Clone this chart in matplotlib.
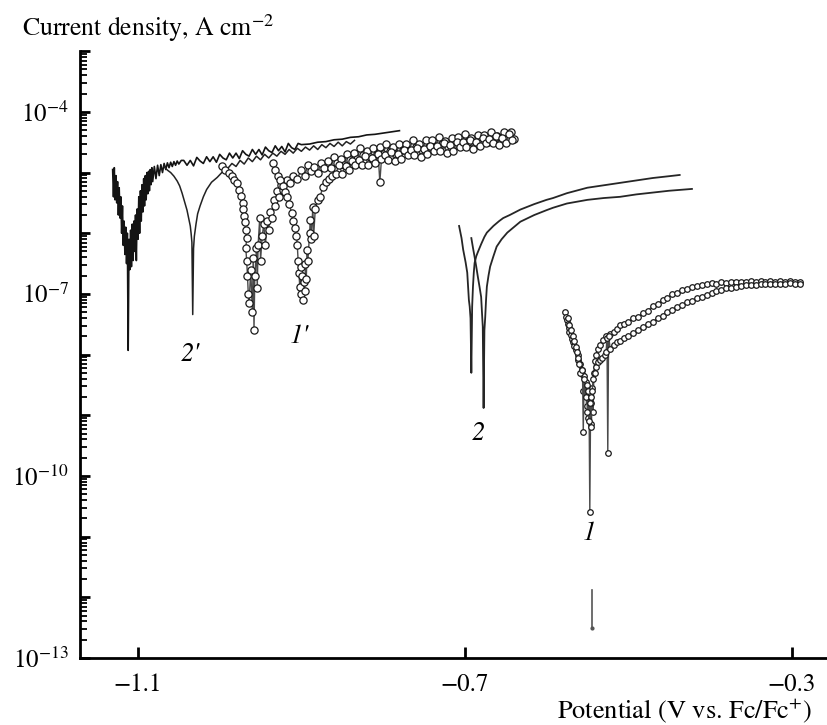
import numpy as np
import matplotlib.pyplot as plt
from matplotlib.ticker import FixedLocator, LogLocator, NullFormatter

# potentials in V vs Fc/Fc+, currents as log10(A cm^-2)

# curve 2' (lines), first branch
e_2p_a = [-1.131, -1.130, -1.129, -1.128, -1.127, -1.126, -1.125, -1.124, -1.123, -1.122,
          -1.121, -1.120, -1.119, -1.118, -1.117, -1.116, -1.115, -1.114, -1.113, -1.112,
          -1.111, -1.110, -1.109, -1.108, -1.107, -1.106, -1.105, -1.104, -1.103, -1.102,
          -1.101, -1.100, -1.099, -1.098, -1.097, -1.096, -1.095, -1.094, -1.093, -1.092,
          -1.091, -1.090, -1.089, -1.088, -1.087, -1.086, -1.085, -1.084, -1.083, -1.082,
          -1.080, -1.078, -1.076, -1.074, -1.072, -1.070, -1.068, -1.066, -1.064, -1.062,
          -1.060, -1.058, -1.056, -1.054, -1.052, -1.050, -1.047,
          -1.044, -1.040, -1.036, -1.032, -1.028, -1.024, -1.020, -1.016, -1.012, -1.008,
          -1.004, -1.000, -0.996, -0.992, -0.988, -0.984, -0.980, -0.976, -0.972, -0.968,
          -0.964, -0.960, -0.956, -0.952, -0.948, -0.944, -0.940, -0.936, -0.932, -0.928,
          -0.924, -0.920, -0.916, -0.912, -0.908, -0.904,
          -0.900, -0.890, -0.880, -0.870, -0.860, -0.850, -0.840, -0.830, -0.820, -0.810,
          -0.800, -0.790, -0.780]
j_2p_a = [-4.95, -5.40, -4.92, -5.45, -5.05, -5.50, -5.15, -5.70, -5.25, -5.75,
          -5.40, -6.00, -5.55, -6.20, -5.80, -6.35, -5.90, -6.50, -6.00, -7.93,
          -6.10, -6.60, -5.95, -6.55, -5.85, -6.45, -5.80, -6.30, -5.70, -6.45,
          -5.60, -6.10, -5.40, -6.00, -5.30, -5.80, -5.20, -5.65, -5.10, -5.55,
          -5.05, -5.45, -5.00, -5.35, -4.98, -5.30, -4.95, -5.20, -4.92, -5.15,
          -4.90, -5.10, -4.88, -5.05, -4.87, -5.00, -4.85, -4.95, -4.84, -4.92,
          -4.83, -4.90, -4.82, -4.88, -4.81, -4.86, -4.80,
          -4.80, -4.88, -4.80, -4.89, -4.75, -4.81, -4.85, -4.74, -4.82, -4.74,
          -4.83, -4.70, -4.76, -4.79, -4.68, -4.76, -4.68, -4.77, -4.64, -4.70,
          -4.73, -4.62, -4.70, -4.62, -4.71, -4.58, -4.64, -4.67, -4.56, -4.64,
          -4.57, -4.66, -4.52, -4.59, -4.62, -4.52,
          -4.54, -4.53, -4.50, -4.49, -4.46, -4.45, -4.42, -4.41, -4.38, -4.37,
          -4.35, -4.33, -4.31]

# curve 2' (lines), second branch
e_2p_b = [-1.068, -1.064, -1.060, -1.056, -1.052, -1.049, -1.046, -1.043, -1.040, -1.038,
          -1.036, -1.035, -1.034, -1.033, -1.032, -1.031, -1.029, -1.027, -1.024, -1.020,
          -1.016, -1.010, -1.003, -0.996, -0.990, -0.985, -0.980, -0.975, -0.970, -0.965,
          -0.960, -0.955, -0.950, -0.945, -0.940, -0.935, -0.930, -0.925, -0.920, -0.915,
          -0.910, -0.905, -0.900, -0.895, -0.890, -0.885, -0.880, -0.875, -0.870, -0.865,
          -0.860, -0.855, -0.850, -0.845, -0.840, -0.835]
j_2p_b = [-4.90, -4.96, -5.00, -5.06, -5.14, -5.22, -5.34, -5.48, -5.62, -5.75,
          -5.88, -6.00, -6.15, -7.34, -6.25, -6.05, -5.85, -5.68, -5.55, -5.40,
          -5.28, -5.16, -5.08, -4.98, -4.93, -4.85, -4.90, -4.80, -4.86, -4.76,
          -4.82, -4.73, -4.79, -4.70, -4.76, -4.68, -4.73, -4.65, -4.70, -4.62,
          -4.68, -4.60, -4.65, -4.58, -4.63, -4.56, -4.62, -4.54, -4.59, -4.52,
          -4.57, -4.50, -4.56, -4.49, -4.53, -4.47]

# curve 1' (circles), first branch
e_1p_a = [-0.997, -0.993, -0.989, -0.985, -0.982, -0.979, -0.976, -0.974, -0.972, -0.971,
          -0.970, -0.969, -0.968, -0.967, -0.968, -0.967, -0.966, -0.965, -0.964, -0.962,
          -0.960, -0.959, -0.958, -0.957, -0.955, -0.954, -0.953, -0.951, -0.950, -0.948,
          -0.946, -0.944, -0.942, -0.940, -0.938, -0.936, -0.934, -0.932, -0.930, -0.928,
          -0.925, -0.922, -0.918, -0.914, -0.910, -0.905,
          -0.900, -0.896, -0.892, -0.888, -0.884, -0.880, -0.876, -0.872, -0.868, -0.864,
          -0.860, -0.856, -0.852, -0.848, -0.844, -0.840, -0.836, -0.832, -0.828, -0.824,
          -0.820, -0.816, -0.812, -0.808, -0.804, -0.800, -0.796, -0.792, -0.788, -0.784,
          -0.780, -0.776, -0.772, -0.768, -0.764, -0.760, -0.756, -0.752, -0.748, -0.744,
          -0.740, -0.736, -0.732, -0.728, -0.724, -0.720, -0.716, -0.712, -0.708, -0.704,
          -0.700, -0.696, -0.692, -0.688, -0.684, -0.680, -0.676, -0.672, -0.668, -0.664,
          -0.660, -0.656, -0.652, -0.648, -0.644, -0.640]
j_1p_a = [-4.90, -4.95, -5.00, -5.05, -5.12, -5.18, -5.28, -5.38, -5.50, -5.60,
          -5.72, -5.82, -5.95, -6.08, -6.25, -6.45, -6.70, -7.00, -7.15, -6.60,
          -7.30, -6.40, -7.59, -6.70, -6.25, -6.90, -6.20, -5.75, -6.45, -6.05,
          -5.85, -6.20, -5.80, -5.95, -5.65, -5.75, -5.45, -5.55, -5.30, -5.40,
          -5.20, -5.28, -5.12, -5.18, -5.05, -5.10,
          -4.95, -5.05, -4.88, -4.98, -4.91, -5.01, -4.84, -4.93, -4.81, -4.92,
          -4.74, -4.84, -4.78, -4.87, -4.70, -4.80, -4.68, -4.78, -4.60, -4.71,
          -4.64, -4.74, -4.59, -4.69, -4.58, -4.70, -4.53, -4.64, -4.58, -4.69,
          -4.53, -4.63, -4.53, -4.64, -4.47, -4.58, -4.53, -4.63, -4.47, -4.58,
          -4.47, -4.58, -4.42, -4.53, -4.48, -4.58, -4.43, -4.53, -4.42, -4.54,
          -4.37, -4.49, -4.43, -4.53, -4.38, -4.48, -4.38, -4.49, -4.33, -4.44,
          -4.39, -4.49, -4.33, -4.44, -4.33, -4.45]

# curve 1' (circles), second branch
e_1p_b = [-0.935, -0.932, -0.929, -0.926, -0.923, -0.920, -0.918, -0.915, -0.912, -0.910,
          -0.908, -0.906, -0.905, -0.904, -0.903, -0.902, -0.901, -0.900, -0.899, -0.898,
          -0.897, -0.896, -0.895, -0.894, -0.893, -0.892, -0.890, -0.889, -0.888, -0.886,
          -0.885, -0.883, -0.880, -0.877, -0.874, -0.870, -0.866, -0.862,
          -0.858, -0.854, -0.850, -0.846, -0.842, -0.838, -0.834, -0.830, -0.826, -0.822,
          -0.818, -0.814, -0.810, -0.806, -0.804, -0.802, -0.798, -0.794, -0.790, -0.786,
          -0.782, -0.778, -0.774, -0.770, -0.766, -0.762, -0.758, -0.754, -0.750, -0.746,
          -0.742, -0.738, -0.734, -0.730, -0.726, -0.722, -0.718, -0.714, -0.710, -0.706,
          -0.702, -0.698, -0.694, -0.690, -0.686, -0.682, -0.678, -0.674, -0.670, -0.666,
          -0.662, -0.658, -0.654, -0.650, -0.646, -0.642]
j_1p_b = [-4.85, -4.95, -5.05, -5.12, -5.22, -5.32, -5.40, -5.52, -5.66, -5.80,
          -5.92, -6.05, -6.20, -6.45, -6.65, -6.88, -6.55, -7.00, -6.70, -7.10,
          -6.80, -6.95, -6.50, -6.75, -6.27, -6.45, -6.00, -5.78, -6.10, -5.57,
          -6.05, -5.60, -5.45, -5.40, -5.24, -5.15, -5.10, -5.05,
          -5.02, -4.88, -5.02, -4.89, -4.96, -4.81, -4.88, -4.79, -4.87, -4.73,
          -4.88, -4.76, -4.84, -4.70, -5.16, -4.78, -4.71, -4.79, -4.66, -4.81,
          -4.69, -4.77, -4.63, -4.71, -4.63, -4.71, -4.59, -4.74, -4.62, -4.70,
          -4.56, -4.64, -4.57, -4.65, -4.52, -4.67, -4.55, -4.64, -4.50, -4.58,
          -4.50, -4.58, -4.46, -4.61, -4.49, -4.57, -4.43, -4.52, -4.44, -4.52,
          -4.39, -4.54, -4.43, -4.51, -4.37, -4.46]

# curve 2 (smooth lines)
e_2_a = [-0.707, -0.704, -0.702, -0.699, -0.697, -0.695, -0.694, -0.693, -0.692, -0.691,
         -0.690, -0.689, -0.688, -0.686, -0.684, -0.680, -0.676, -0.673, -0.665, -0.658,
         -0.653, -0.645, -0.632, -0.615, -0.600, -0.592, -0.575, -0.550, -0.530, -0.510,
         -0.490, -0.470, -0.450, -0.437]
j_2_a = [-5.88, -6.08, -6.27, -6.48, -6.65, -7.10, -7.21, -7.40, -8.30, -7.21,
         -6.88, -6.65, -6.49, -6.38, -6.31, -6.18, -6.06, -5.99, -5.88, -5.80,
         -5.75, -5.70, -5.61, -5.52, -5.45, -5.42, -5.34, -5.25, -5.21, -5.17,
         -5.13, -5.09, -5.06, -5.04]
e_2_b = [-0.692, -0.690, -0.688, -0.686, -0.684, -0.682, -0.680, -0.679, -0.678, -0.677,
         -0.676, -0.675, -0.674, -0.673, -0.671, -0.669, -0.665, -0.661, -0.655, -0.648,
         -0.640, -0.632, -0.615, -0.600, -0.592, -0.575, -0.550, -0.530, -0.510, -0.490,
         -0.470, -0.450, -0.422]
j_2_b = [-6.08, -6.24, -6.39, -6.55, -6.72, -6.88, -7.05, -7.30, -7.54, -8.88,
         -7.60, -7.38, -7.10, -6.88, -6.70, -6.55, -6.38, -6.22, -6.10, -5.99,
         -5.90, -5.81, -5.70, -5.62, -5.58, -5.51, -5.45, -5.42, -5.40, -5.36,
         -5.33, -5.30, -5.27]

# curve 1 (small circles), first branch
e_1_a = [-0.577, -0.576, -0.575, -0.574, -0.573, -0.572, -0.570, -0.569, -0.568, -0.566,
         -0.564, -0.562, -0.561, -0.559, -0.557, -0.556, -0.555, -0.554, -0.552, -0.551,
         -0.550, -0.549, -0.548, -0.547, -0.546, -0.545, -0.544, -0.543, -0.542, -0.541,
         -0.539, -0.537, -0.535, -0.531, -0.527, -0.522, -0.518, -0.514, -0.510, -0.505,
         -0.500, -0.494, -0.488, -0.482, -0.476, -0.470, -0.464, -0.458, -0.452, -0.446,
         -0.440, -0.434, -0.428, -0.422, -0.416, -0.410, -0.404, -0.398, -0.392, -0.386,
         -0.380, -0.374, -0.368, -0.362, -0.356, -0.350, -0.344, -0.338, -0.332, -0.326,
         -0.320, -0.314, -0.308, -0.302, -0.296, -0.290]
j_1_a = [-7.30, -7.38, -7.43, -7.50, -7.56, -7.62, -7.68, -7.74, -7.80, -7.86,
         -7.93, -8.00, -8.09, -8.15, -8.25, -8.32, -8.60, -8.35, -8.45, -8.85,
         -8.55, -9.05, -8.65, -10.59, -8.80, -9.15, -8.55, -8.95, -8.30, -8.10,
         -8.00, -7.90, -7.85, -7.76, -7.70, -7.66, -7.62, -7.58, -7.52, -7.49,
         -7.46, -7.40, -7.38, -7.31, -7.28, -7.20, -7.17, -7.10, -7.07, -7.00,
         -6.98, -6.93, -6.92, -6.88, -6.87, -6.85, -6.84, -6.82, -6.83, -6.81,
         -6.82, -6.80, -6.81, -6.80, -6.81, -6.79, -6.80, -6.79, -6.81, -6.79,
         -6.80, -6.79, -6.81, -6.79, -6.81, -6.80]

# curve 1 (small circles), second branch
e_1_b = [-0.574, -0.572, -0.570, -0.568, -0.566, -0.564, -0.563, -0.561, -0.560, -0.559,
         -0.556, -0.555, -0.554, -0.552, -0.551, -0.550, -0.549, -0.548, -0.547, -0.546,
         -0.545, -0.544, -0.543, -0.541, -0.539, -0.537, -0.535, -0.532, -0.529, -0.527,
         -0.526, -0.525, -0.524, -0.522, -0.518, -0.514, -0.510, -0.505, -0.500, -0.494,
         -0.488, -0.482, -0.476, -0.470, -0.464, -0.458, -0.452, -0.446, -0.440, -0.434,
         -0.428, -0.422, -0.416, -0.410, -0.404, -0.398, -0.392, -0.386, -0.380, -0.374,
         -0.368, -0.362, -0.356, -0.350, -0.344, -0.338, -0.332, -0.326, -0.320, -0.314,
         -0.308, -0.302, -0.296, -0.290]
j_1_b = [-7.40, -7.52, -7.60, -7.70, -7.78, -7.88, -7.95, -8.05, -8.15, -8.30,
         -8.25, -9.27, -8.40, -8.70, -8.50, -8.95, -8.60, -9.10, -8.80, -9.20,
         -8.70, -8.60, -8.40, -8.30, -8.20, -8.12, -8.09, -8.05, -8.00, -7.95,
         -7.72, -9.62, -7.70, -7.90, -7.85, -7.80, -7.78, -7.72, -7.70, -7.64,
         -7.60, -7.55, -7.50, -7.46, -7.40, -7.36, -7.30, -7.27, -7.22, -7.19,
         -7.14, -7.12, -7.07, -7.05, -7.01, -6.99, -6.95, -6.94, -6.91, -6.90,
         -6.88, -6.87, -6.86, -6.85, -6.85, -6.84, -6.84, -6.83, -6.84, -6.83,
         -6.84, -6.82, -6.84, -6.83]

# detached piece below curve 1
e_1_tail = [-0.5445, -0.5445]
j_1_tail = [-11.88, -12.50]

# curve labels: text, potential, log10 current
curve_labels = ["2'", "1'", "2", "1"]
label_e = [-1.036, -0.903, -0.684, -0.547]
label_j = [-8.00, -7.70, -9.30, -10.95]

plt.rcParams['font.family'] = 'STIXGeneral'
plt.rcParams['mathtext.fontset'] = 'stix'

fig = plt.figure(figsize=(8.27, 7.25), dpi=100)
ax = fig.add_axes([0.0967, 0.0924, 0.903, 0.837])


def dec(v):
    return 10.0 ** np.asarray(v)


# smooth/noisy line curves
ax.plot(e_2p_a, dec(j_2p_a), color='#141414', lw=1.2)
ax.plot(e_2p_b, dec(j_2p_b), color='#222222', lw=1.1)
ax.plot(e_2_a, dec(j_2_a), color='#262626', lw=1.3)
ax.plot(e_2_b, dec(j_2_b), color='#262626', lw=1.3)

# circle curves
for e, j, ms in [(e_1p_a, j_1p_a, 5.2), (e_1p_b, j_1p_b, 5.2),
                 (e_1_a, j_1_a, 4.0), (e_1_b, j_1_b, 4.0)]:
    ax.plot(e, dec(j), color='#4a4a4a', lw=1.0, marker='o', ms=ms,
            mfc='white', mec='#1a1a1a', mew=0.9)
ax.plot(e_1_tail, dec(j_1_tail), color='#555555', lw=1.2, marker='o', ms=2,
        markevery=[1], mfc='#555555', mec='#555555')

for t, e, j in zip(curve_labels, label_e, label_j):
    ax.text(e, 10.0 ** j, t, fontsize=19, style='italic', ha='center', va='center')

ax.set_yscale('log')
ax.set_xlim(-1.171, -0.257)
ax.set_ylim(1e-13, 1e-3)

ax.xaxis.set_major_locator(FixedLocator([-1.1, -0.7, -0.3]))
ax.set_xticklabels(['\u22121.1', '\u22120.7', '\u22120.3'])
ax.yaxis.set_major_locator(FixedLocator([10.0 ** k for k in range(-13, -2)]))
ax.set_yticklabels(['$10^{%d}$' % k if k in (-13, -10, -7, -4) else '' for k in range(-13, -2)])
ax.yaxis.set_minor_locator(LogLocator(base=10, subs=np.arange(2, 10), numticks=50))
ax.yaxis.set_minor_formatter(NullFormatter())

for s in ['top', 'right']:
    ax.spines[s].set_visible(False)
for s in ['left', 'bottom']:
    ax.spines[s].set_linewidth(2.0)

ax.tick_params(axis='x', direction='in', length=8, width=2, labelsize=18, pad=11)
ax.tick_params(axis='y', which='major', direction='in', length=7, width=2, labelsize=18, pad=8)
ax.tick_params(axis='y', which='minor', direction='in', length=5, width=1.3)

fig.text(22 / 827, 1 - 36 / 725, 'Current density, A cm$^{-2}$', fontsize=18.5, va='baseline')
fig.text(812 / 827, 1 - 718 / 725, 'Potential (V vs. Fc/Fc$^{+}$)', fontsize=19,
         ha='right', va='baseline')

fig.savefig('out.png', dpi=100)
